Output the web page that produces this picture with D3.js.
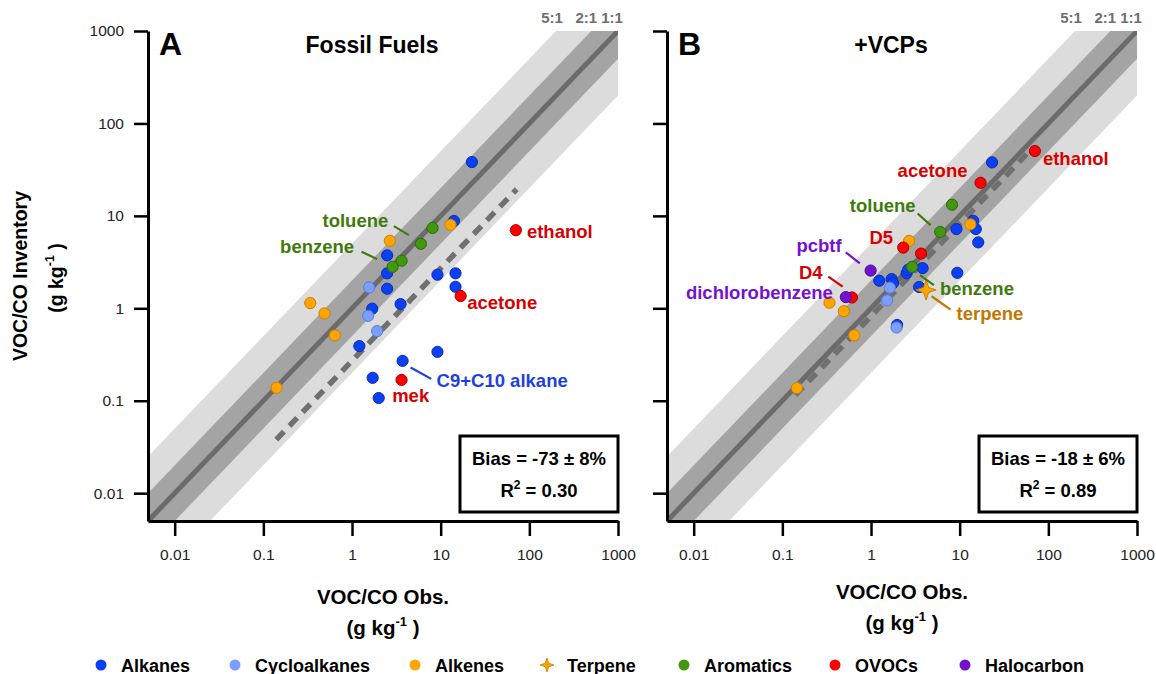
<!DOCTYPE html>
<html><head><meta charset="utf-8">
<script src="https://cdn.jsdelivr.net/npm/d3@7"></script>
<style>body{margin:0;background:#fff} text{font-family:"Liberation Sans",Arial,sans-serif}</style>
</head><body><svg id="c" width="1156" height="674"></svg>
<script>
// ---------- data ----------
const groups = ["Alkanes","Cycloalkanes","Alkenes","Terpene","Aromatics","OVOCs","Halocarbon"];
const majorTicks = [0.01,0.1,1,10,100,1000];
const tickLabels = ["0.01","0.1","1","10","100","1000"];
const ratioLabels = ["5:1","2:1","1:1"];
const ratioValues = [200,500,1000];

// Panel A: Fossil Fuels  [obs, inventory]
const fossilAlkanes = [[22.5,38.2],[14.1,8.8],[2.49,3.74],[2.49,2.39],[2.49,1.63],[9.2,2.31],[14.7,2.39],[14.7,1.71],[3.53,1.11],[1.69,0.99],[1.21,0.39],[9.2,0.338],[3.72,0.27],[1.71,0.177],[2.0,0.107]];
const fossilCycloalkanes = [[1.56,1.68],[1.52,0.83],[1.92,0.567]];
const fossilAlkenes = [[2.67,5.38],[12.9,8.0],[0.338,1.14],[0.489,0.88],[0.64,0.51],[0.141,0.138]];
const fossilTerpene = [];
const fossilAromatics = [[8.1,7.4],[5.98,4.99],[3.62,3.27],[2.87,2.81]];
const fossilOVOCs = [[70.5,7.0],[16.8,1.36],[3.62,0.168]];
const fossilHalocarbon = [];
const fossilDash = [[0.14,0.038],[72,19.4]];
const fossilStats = ["Bias = -73 ± 8%","0.30"];

// Panel B: +VCPs
const vcpAlkanes = [[23.2,37.9],[14.2,8.85],[9.2,7.2],[15.2,7.2],[16.2,5.17],[3.82,2.72],[2.52,2.39],[2.63,2.62],[9.4,2.42],[1.24,1.99],[1.71,2.07],[3.49,1.70],[1.97,0.66],[1.77,1.87]];
const vcpCycloalkanes = [[1.63,1.67],[1.52,1.22],[1.94,0.62]];
const vcpAlkenes = [[13.2,8.1],[2.69,5.36],[0.34,1.15],[0.494,0.93],[0.647,0.51],[0.146,0.137]];
const vcpTerpene = [[4.18,1.58]];
const vcpAromatics = [[8.2,13.2],[6.03,6.7],[2.91,2.81]];
const vcpOVOCs = [[70.5,50.3],[17.2,22.8],[2.31,4.54],[3.67,3.91],[0.61,1.31]];
const vcpHalocarbon = [[0.99,2.56],[0.52,1.32]];
const vcpDash = [[0.14,0.115],[57,46.7]];
const vcpStats = ["Bias = -18 ± 6%","0.89"];

// annotations: [text, group, pointX, pointY]
const fossilNotes = [["toluene",4,5.98,4.99],["benzene",4,2.87,2.81],["ethanol",5,70.5,7.0],["acetone",5,16.8,1.36],["C9+C10 alkane",0,3.72,0.27],["mek",5,3.62,0.168]];
const vcpNotes = [["ethanol",5,70.5,50.3],["acetone",5,17.2,22.8],["toluene",4,6.03,6.7],["D5",5,2.31,4.54],["pcbtf",6,0.99,2.56],["D4",5,0.61,1.31],["dichlorobenzene",6,0.52,1.32],["benzene",4,2.91,2.81],["terpene",3,4.18,1.58]];

// ---------- styles / layout ----------
const fill = ["#0a3ff2","#7b9eff","#ffa500","#ffa500","#42970f","#ff0000","#7312cc"];
const edge = ["#0a2db0","#5a7cd6","#c98000","#c98000","#2c6b08","#a80000","#4e0c90"];
const noteColor = ["#1f3fe0","#5a7cd6","#c07800","#c07800","#3f7a0c","#d60000","#7412d0"];
// label placement relative to its point (pixels): dx, dy, anchor, leader
const fossilNoteLayout = [
  [-65.5,-23.7,"middle",[-27,-17.7,-12,-8.7]],
  [-75.5,-20.7,"middle",[-31,-15,-15.4,-7.7]],
  [11,1,"start",null],
  [6.6,6.7,"start",null],
  [34,19.3,"start",[8,6.6,28.6,18]],
  [-9.4,15,"start",null]
];
const vcpNoteLayout = [
  [8,7,"start",null],
  [-48,-12.7,"middle",null],
  [-57.5,-26.8,"middle",[-22.6,-18.5,-9.6,-6.8]],
  [-22,-10.2,"middle",null],
  [-51.6,-25.5,"middle",[-24.8,-18.2,-10.8,-7.2]],
  [-41.2,-25.5,"middle",[-23.7,-20.8,-9.3,-10.8]],
  [-12.9,-4.5,"end",null],
  [27.8,21.6,"start",[7.8,8.3,21.8,18.3]],
  [30.5,23,"start",[5.5,6.3,24.5,19.6]]
];
const legendX = [101,235,415,547,684,835,965];

const svg = d3.select("#c");
const domain = [0.005,1000];
const yScale = d3.scaleLog().domain(domain).range([521,31]);

function star4(r){
  const ri = r*0.36, pts=[];
  for(let i=0;i<8;i++){const a=i*Math.PI/4-Math.PI/2, rr=i%2?ri:r; pts.push([rr*Math.cos(a),rr*Math.sin(a)]);}
  return "M"+pts.map(p=>p[0].toFixed(2)+","+p[1].toFixed(2)).join("L")+"Z";
}

const minorTicks = [];
for(let e=-3;e<=2;e++) for(let k=2;k<=9;k++){const v=k*Math.pow(10,e); if(v>=0.005-1e-9 && v<=1000) minorTicks.push(v);}
minorTicks.push(0.005);

function drawPanel(ox, series, notes, layout, letter, title, stats, dash, showY, xtitleY, id){
  const x = d3.scaleLog().domain(domain).range([ox, ox+470]);
  const y = yScale;
  const g = svg.append("g");
  const clipId = "clip"+id;
  g.append("clipPath").attr("id",clipId).append("rect")
    .attr("x",x.range()[0]).attr("y",y.range()[1]).attr("width",x.range()[1]-x.range()[0]).attr("height",y.range()[0]-y.range()[1]);
  const bands = g.append("g").attr("clip-path",`url(#${clipId})`);
  const band = f => [[1e-4,1e-4*f],[1e4,1e4*f],[1e4,1e4/f],[1e-4,1e-4/f]];
  const line = d3.line().x(d=>x(d[0])).y(d=>y(d[1]));
  bands.append("path").attr("d",line(band(5))+"Z").attr("fill","#dcdcdc");
  bands.append("path").attr("d",line(band(2))+"Z").attr("fill","#a4a4a4");
  bands.append("path").attr("d",line([[domain[0],domain[0]],[domain[1],domain[1]]])).attr("stroke","#6b6b6b").attr("stroke-width",5);
  g.append("path").attr("d",line(dash)).attr("stroke","#707070").attr("stroke-width",5.5).attr("stroke-dasharray","11 8").attr("fill","none");

  // axes
  const xa = g.append("g").attr("transform",`translate(0,${y.range()[0]})`);
  xa.call(d3.axisBottom(x).tickValues(minorTicks).tickSize(7).tickSizeOuter(0).tickFormat(""));
  xa.call(d3.axisBottom(x).tickValues(majorTicks).tickSize(15).tickSizeOuter(0).tickPadding(13).tickFormat((d,i)=>tickLabels[i]));
  const ya = g.append("g").attr("transform",`translate(${x.range()[0]},0)`);
  ya.call(d3.axisLeft(y).tickValues(minorTicks).tickSize(7).tickSizeOuter(0).tickFormat(""));
  ya.call(d3.axisLeft(y).tickValues(majorTicks).tickSize(14).tickSizeOuter(0).tickPadding(10).tickFormat((d,i)=>showY?tickLabels[i]:""));
  g.selectAll(".domain").attr("stroke","#000").attr("stroke-width",3);
  g.selectAll(".tick line").attr("stroke","#000").attr("stroke-width",2.5);
  g.selectAll(".tick text").attr("font-size",15.5).attr("fill","#222").attr("font-family","Liberation Sans, Arial, sans-serif");

  // points
  const order = [0,1,2,4,5,6,3];
  order.forEach(gi=>{
    const pts = series[gi];
    if(gi===3){
      g.selectAll(null).data(pts).enter().append("path")
        .attr("d",star4(10)).attr("transform",d=>`translate(${x(d[0])},${y(d[1])})`)
        .attr("fill",fill[gi]).attr("stroke",edge[gi]).attr("stroke-width",1);
    } else {
      g.selectAll(null).data(pts).enter().append("circle")
        .attr("cx",d=>x(d[0])).attr("cy",d=>y(d[1])).attr("r",5.6)
        .attr("fill",fill[gi]).attr("stroke",edge[gi]).attr("stroke-width",1);
    }
  });

  // annotations
  notes.forEach((n,i)=>{
    const L = layout[i], px = x(n[2]), py = y(n[3]);
    if(L[3]) g.append("line").attr("x1",px+L[3][0]).attr("y1",py+L[3][1]).attr("x2",px+L[3][2]).attr("y2",py+L[3][3])
      .attr("stroke",noteColor[n[1]]).attr("stroke-width",2.2);
    g.append("text").attr("x",px+L[0]).attr("y",py+L[1]).attr("dy","0.36em").attr("text-anchor",L[2])
      .attr("font-size",18.5).attr("font-weight","bold").attr("fill",noteColor[n[1]]).text(n[0]);
  });

  // ratio labels
  ratioLabels.forEach((t,i)=>{
    g.append("text").attr("x",x(ratioValues[i])+[-4,-5,-6][i]).attr("y",23).attr("text-anchor","middle")
      .attr("font-size",15).attr("font-weight","bold").attr("fill","#6e6e6e").text(t);
  });

  // letter & title
  g.append("text").attr("x",x.range()[0]+11).attr("y",55).attr("font-size",32).attr("font-weight","bold").text(letter);
  g.append("text").attr("x",(x.range()[0]+x.range()[1])/2-11).attr("y",53).attr("text-anchor","middle")
    .attr("font-size",23).attr("font-weight","bold").text(title);

  // stats box
  const bx = x.range()[1]-158;
  g.append("rect").attr("x",bx).attr("y",436).attr("width",158).attr("height",76).attr("fill","#fff").attr("stroke","#000").attr("stroke-width",3);
  g.append("text").attr("x",bx+79).attr("y",465).attr("text-anchor","middle").attr("font-size",18.5).attr("font-weight","bold").text(stats[0]);
  const t2 = g.append("text").attr("x",bx+79).attr("y",497).attr("text-anchor","middle").attr("font-size",18.5).attr("font-weight","bold");
  t2.append("tspan").text("R");
  t2.append("tspan").attr("dy",-8).attr("font-size",12).text("2");
  t2.append("tspan").attr("dy",8).text(" = "+stats[1]);

  // x title
  const cx = (x.range()[0]+x.range()[1])/2;
  g.append("text").attr("x",cx).attr("y",xtitleY).attr("text-anchor","middle").attr("font-size",20.5).attr("font-weight","bold").text("VOC/CO Obs.");
  const u = g.append("text").attr("x",cx).attr("y",xtitleY+31).attr("text-anchor","middle").attr("font-size",20.5).attr("font-weight","bold");
  u.append("tspan").text("(g kg");
  u.append("tspan").attr("dy",-9).attr("font-size",13).text("-1");
  u.append("tspan").attr("dy",9).text(" )");
}

drawPanel(148,[fossilAlkanes,fossilCycloalkanes,fossilAlkenes,fossilTerpene,fossilAromatics,fossilOVOCs,fossilHalocarbon],
  fossilNotes,fossilNoteLayout,"A","Fossil Fuels",fossilStats,fossilDash,true,604,"A");
drawPanel(667,[vcpAlkanes,vcpCycloalkanes,vcpAlkenes,vcpTerpene,vcpAromatics,vcpOVOCs,vcpHalocarbon],
  vcpNotes,vcpNoteLayout,"B","+VCPs",vcpStats,vcpDash,false,599,"B");

// y title
svg.append("text").attr("transform","translate(27,276) rotate(-90)").attr("text-anchor","middle")
  .attr("font-size",19.5).attr("font-weight","bold").text("VOC/CO Inventory");
const yu = svg.append("text").attr("transform","translate(63,278) rotate(-90)").attr("text-anchor","middle")
  .attr("font-size",19.5).attr("font-weight","bold");
yu.append("tspan").text("(g kg");
yu.append("tspan").attr("dy",-9).attr("font-size",12.5).text("-1");
yu.append("tspan").attr("dy",9).text(" )");

// legend
const lg = svg.append("g");
groups.forEach((name,i)=>{
  if(i===3) lg.append("path").attr("d",star4(7)).attr("transform",`translate(${legendX[i]},665)`).attr("fill",fill[i]).attr("stroke",edge[i]).attr("stroke-width",0.8);
  else lg.append("circle").attr("cx",legendX[i]).attr("cy",665).attr("r",5.5).attr("fill",fill[i]);
  lg.append("text").attr("x",legendX[i]+20).attr("y",671.5).attr("font-size",18).attr("font-weight","bold").text(name);
});
</script></body></html>
